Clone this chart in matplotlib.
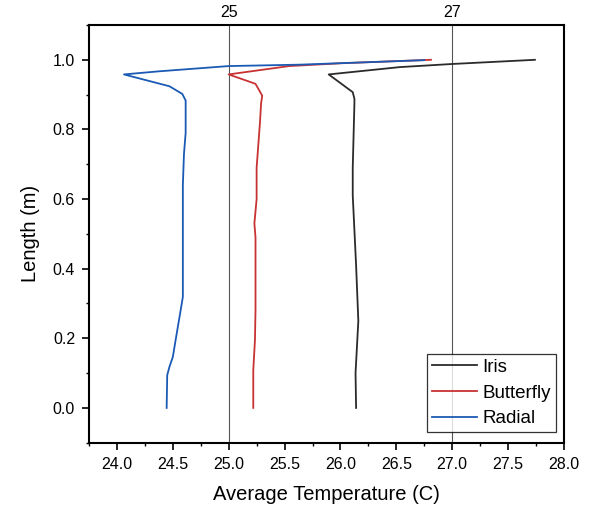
import matplotlib
matplotlib.use("Agg")
import matplotlib.pyplot as plt
import matplotlib.transforms as mtransforms
from matplotlib.ticker import MultipleLocator, FormatStrFormatter

plt.rcParams['font.family'] = ['Liberation Sans', 'DejaVu Sans']

# Data (Average Temperature in C vs Length in m)
iris_y = [0.00, 0.10, 0.25, 0.41, 0.61, 0.69, 0.875, 0.888, 0.907, 0.958, 0.979, 0.988, 1.00]
iris_x = [26.14, 26.135, 26.16, 26.14, 26.11, 26.11, 26.125, 26.125, 26.11, 25.895, 26.53, 27.00, 27.74]

butterfly_y = [0.00, 0.108, 0.194, 0.28, 0.49, 0.53, 0.60, 0.69, 0.82, 0.875, 0.897, 0.931, 0.958, 0.982, 0.99, 1.00]
butterfly_x = [25.22, 25.22, 25.235, 25.24, 25.24, 25.23, 25.25, 25.25, 25.28, 25.29, 25.30, 25.24, 25.00, 25.54, 26.00, 26.81]

radial_y = [0.00, 0.094, 0.118, 0.146, 0.204, 0.28, 0.319, 0.64, 0.73, 0.79, 0.875, 0.883, 0.902, 0.924, 0.958, 0.967, 0.982, 0.986, 0.999]
radial_x = [24.445, 24.45, 24.47, 24.50, 24.53, 24.57, 24.59, 24.59, 24.60, 24.615, 24.615, 24.615, 24.585, 24.47, 24.063, 24.38, 25.00, 25.63, 26.75]

ref_lines = [25, 27]
ref_labels = ["25", "27"]

fig = plt.figure(figsize=(5.9, 5.08), dpi=100)
ax = fig.add_axes([0.1508, 0.1285, 0.8051, 0.8223])

for xv in ref_lines:
    ax.axvline(xv, color='#555555', lw=0.8, zorder=1)

ax.plot(iris_x, iris_y, color='#2b2b2b', lw=1.3, label='Iris', zorder=3)
ax.plot(butterfly_x, butterfly_y, color='#c83232', lw=1.3, label='Butterfly', zorder=3)
ax.plot(radial_x, radial_y, color='#1b5ab4', lw=1.3, label='Radial', zorder=3)

ax.set_xlim(23.75, 28.0)
ax.set_ylim(-0.1, 1.1)
ax.xaxis.set_major_locator(MultipleLocator(0.5))
ax.xaxis.set_minor_locator(MultipleLocator(0.25))
ax.yaxis.set_major_locator(MultipleLocator(0.2))
ax.yaxis.set_minor_locator(MultipleLocator(0.1))
ax.xaxis.set_major_formatter(FormatStrFormatter('%.1f'))
ax.yaxis.set_major_formatter(FormatStrFormatter('%.1f'))
ax.tick_params(which='major', direction='out', length=5, width=1.2, labelsize=11.5, pad=5)
ax.tick_params(which='minor', direction='out', length=2.5, width=1.0)
for s in ax.spines.values():
    s.set_linewidth(1.5)

trans = mtransforms.blended_transform_factory(ax.transData, ax.transAxes)
for xv, lab in zip(ref_lines, ref_labels):
    ax.text(xv, 1.012, lab, transform=trans, ha='center', va='bottom', fontsize=11.5)

ax.set_xlabel('Average Temperature (C)', fontsize=14.5, labelpad=10)
ax.set_ylabel('Length (m)', fontsize=14.5, labelpad=9)

leg = ax.legend(loc='lower right', bbox_to_anchor=(0.983, 0.026), borderaxespad=0,
                fontsize=13.5, frameon=True, fancybox=False, edgecolor='black',
                handlelength=2.4, handletextpad=0.32, labelspacing=0.45, borderpad=0.25)
leg.get_frame().set_linewidth(0.9)

fig.savefig('out.png', dpi=100)
